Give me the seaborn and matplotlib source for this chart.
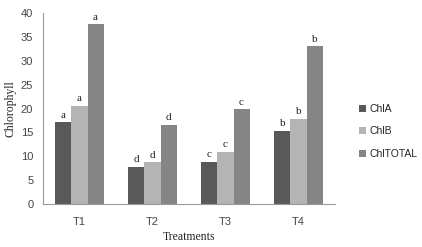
import numpy as np
import pandas as pd
import matplotlib
matplotlib.use("Agg")
import matplotlib.pyplot as plt
import seaborn as sns

treatments = ["T1", "T2", "T3", "T4"]
chl_a = [17.1, 7.7, 8.8, 15.3]
chl_b = [20.6, 8.7, 10.9, 17.8]
chl_total = [37.6, 16.5, 19.8, 33.0]
letters_a = ["a", "d", "c", "b"]
letters_b = ["a", "d", "c", "b"]
letters_total = ["a", "d", "c", "b"]

series = ["ChlA", "ChlB", "ChlTOTAL"]
df = pd.DataFrame({
    "Treatments": treatments * 3,
    "value": chl_a + chl_b + chl_total,
    "series": np.repeat(series, len(treatments)),
    "letter": letters_a + letters_b + letters_total,
})

sns.set_style("white")
colors = ["#595959", "#b4b4b4", "#858585"]

fig = plt.figure(figsize=(4.22, 2.47), dpi=100)
ax = fig.add_axes([43 / 422, 1 - 204 / 247, 292 / 422, 191 / 247])
sns.barplot(data=df, x="Treatments", y="value", hue="series", palette=colors,
            width=0.66, saturation=1, ax=ax, linewidth=0)

# letters above bars
for cont, s in zip(ax.containers, series):
    labs = df[df.series == s]["letter"].tolist()
    ax.bar_label(cont, labels=labs, padding=2, fontsize=8,
                 fontfamily="Liberation Serif", color="#222222")

ax.set_ylim(0, 40)
ax.set_yticks(range(0, 41, 5))
ax.set_xlim(-0.5, 3.5)
ax.set_xticks([-0.5, 0.5, 1.5, 2.5, 3.5], minor=True)
ax.tick_params(axis="x", which="minor", length=4, color="#888888", direction="out")
ax.tick_params(axis="x", which="major", length=0, pad=9)
ax.tick_params(axis="y", length=4, color="#888888", direction="out", pad=3)
for lab in ax.get_xticklabels() + ax.get_yticklabels():
    lab.set_fontfamily("Liberation Sans")
    lab.set_fontsize(8)
    lab.set_color("#444444")
for side in ["top", "right"]:
    ax.spines[side].set_visible(False)
for side in ["left", "bottom"]:
    ax.spines[side].set_color("#999999")
    ax.spines[side].set_linewidth(0.8)

ax.set_xlabel("Treatments", fontfamily="Liberation Serif", fontsize=8.5, labelpad=3)
ax.set_ylabel("Chlorophyll", fontfamily="Liberation Serif", fontsize=8.5, labelpad=3)

leg = ax.legend(loc="center left", bbox_to_anchor=(1.05, 0.38), frameon=False,
                prop={"family": "Liberation Sans", "size": 7.5},
                handlelength=0.7, handleheight=0.7, handletextpad=0.3,
                labelspacing=1.2)

fig.savefig("out.png", dpi=100)
